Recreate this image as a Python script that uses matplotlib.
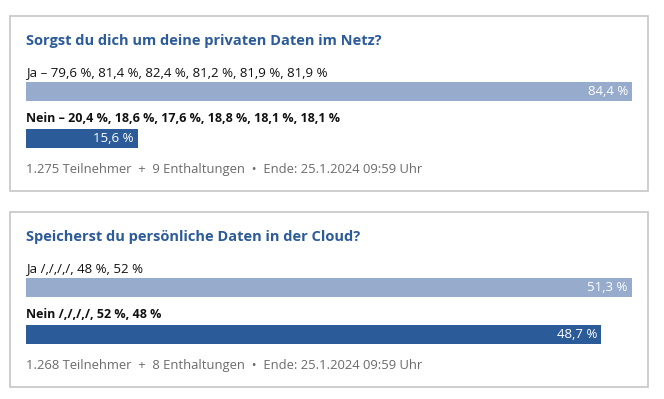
import numpy as np
import matplotlib.pyplot as plt
from matplotlib.patches import Rectangle

plt.rcParams['font.family'] = ['Open Sans', 'DejaVu Sans']

# Daten
titoli = ['Sorgst du dich um deine privaten Daten im Netz?',
          'Speicherst du persönliche Daten in der Cloud?']
etichette_ja = ['Ja – 79,6 %, 81,4 %, 82,4 %, 81,2 %, 81,9 %, 81,9 %',
                'Ja /,/,/,/, 48 %, 52 %']
etichette_nein = ['Nein – 20,4 %, 18,6 %, 17,6 %, 18,8 %, 18,1 %, 18,1 %',
                  'Nein /,/,/,/, 52 %, 48 %']
valori_ja = [84.4, 51.3]
valori_nein = [15.6, 48.7]
teilnehmer = ['1.275', '1.268']
enthaltungen = [9, 8]
ende = '25.1.2024 09:59 Uhr'

col_chiaro = '#97accd'
col_scuro = '#2c5b9a'
col_titolo = '#2c5b9a'
col_grigio = '#6b6b6b'

W, H = 664, 399
fig = plt.figure(figsize=(W/100, H/100), dpi=100)
bg = fig.add_axes([0, 0, 1, 1])
bg.set_xlim(0, W)
bg.set_ylim(H, 0)
bg.axis('off')

# posizioni pannelli (pixel)
top_pannello = [16, 212]

for k in range(2):
    y0 = top_pannello[k]
    bg.add_patch(Rectangle((10, y0), 638, 175, fill=False, edgecolor='#c6c6c6', lw=1.2))
    bg.text(26, y0 + 25, titoli[k], fontsize=10.5, fontweight='bold', color=col_titolo, va='center')
    bg.text(26, y0 + 57, etichette_ja[k], fontsize=9.5, color='#111111', va='center')
    bg.text(26, y0 + 103, etichette_nein[k], fontsize=9.0, fontweight='bold', color='#111111', va='center')
    bg.text(26, y0 + 154, f'{teilnehmer[k]} Teilnehmer  +  {enthaltungen[k]} Enthaltungen  •  Ende: {ende}',
            fontsize=9.4, color=col_grigio, va='center')

    # barre
    b_top = y0 + 66
    b_bot = y0 + 132
    ax = fig.add_axes([26/W, 1 - b_bot/H, 606/W, (b_bot - b_top)/H])
    vals = [valori_ja[k], valori_nein[k]]
    ax.barh([0, 1], vals, height=0.4, color=[col_chiaro, col_scuro])
    ax.set_xlim(0, max(vals))
    ax.set_ylim(1.2, -0.2)
    ax.axis('off')
    for i, v in enumerate(vals):
        ax.annotate(f'{v:.1f} %'.replace('.', ','), (v, i), xytext=(-3, 0), textcoords='offset points',
                    ha='right', va='center', color='white', fontsize=9.5)

fig.savefig('out.png', dpi=100)
